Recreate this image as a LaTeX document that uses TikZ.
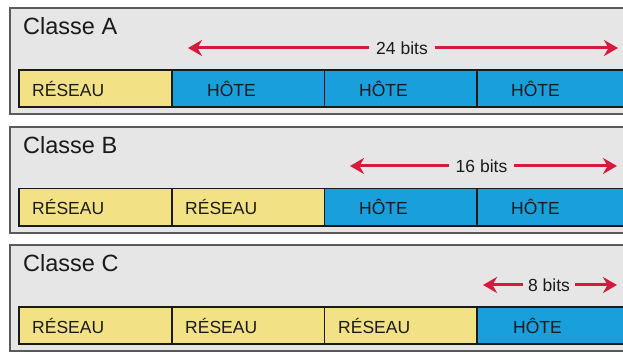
\documentclass[tikz,border=0pt]{standalone}
\usepackage{fontspec}
\setmainfont{Liberation Sans}
\usetikzlibrary{arrows.meta}
\definecolor{bgray}{HTML}{E6E6E6}
\definecolor{frameg}{HTML}{5A5A5A}
\definecolor{fyel}{HTML}{F3E285}
\definecolor{fblue}{HTML}{199FDC}
\definecolor{ared}{HTML}{D61A3C}
\definecolor{ftxt}{HTML}{1A1A1A}
\tikzset{
  outerbox/.style={draw=frameg, fill=bgray, line width=1.3pt},
  netfield/.style={draw=ftxt, fill=fyel, line width=1.1pt},
  hostfield/.style={draw=ftxt, fill=fblue, line width=1.1pt},
  classlbl/.style={anchor=base west, inner sep=0pt, font=\fontsize{23.5}{26}\selectfont, text=ftxt},
  netlbl/.style={anchor=base west, inner sep=0pt, font=\fontsize{17.5}{20}\selectfont, text=ftxt},
  bitslbl/.style={inner xsep=7pt, inner ysep=0pt, font=\fontsize{17.5}{20}\selectfont, text=ftxt},
  redarrow/.style={draw=ared, line width=3pt, -{Stealth[length=14pt,width=16pt,inset=4.5pt]}}
}
\begin{document}
\begin{tikzpicture}[x=1pt,y=-1pt]
\useasboundingbox (0,0) rectangle (623,352);
\clip (0,0) rectangle (623,352);
\fill[white] (0,0) rectangle (623,352);

% ---------- Classe A ----------
\draw[outerbox] (10,8) rectangle (640,114);
\node[classlbl] (tA) at (23,35) {Classe A};
\draw[netfield]  (19,70) rectangle (172,107);
\draw[hostfield] (172,70) rectangle (324.5,107);
\draw[hostfield] (324.5,70) rectangle (477,107);
\draw[hostfield] (477,70) rectangle (630,107);
\node[netlbl] (a1) at (32,96.5) {RÉSEAU};
\node[netlbl] (a2) at (207,96.5) {HÔTE};
\node[netlbl] (a3) at (359,96.5) {HÔTE};
\node[netlbl] (a4) at (511,96.5) {HÔTE};
\coordinate (aL) at (188,48);
\coordinate (aR) at (618,48);
\node[bitslbl] (bA) at (402,48) {24 bits};
\draw[redarrow] (bA.west) -- (aL);
\draw[redarrow] (bA.east) -- (aR);

% ---------- Classe B ----------
\draw[outerbox] (10,127) rectangle (640,233);
\node[classlbl] (tB) at (23,153.5) {Classe B};
\draw[netfield]  (19,188.5) rectangle (172,226);
\draw[netfield]  (172,188.5) rectangle (324.5,226);
\draw[hostfield] (324.5,188.5) rectangle (477,226);
\draw[hostfield] (477,188.5) rectangle (630,226);
\node[netlbl] (b1) at (32,214.5) {RÉSEAU};
\node[netlbl] (b2) at (185,214.5) {RÉSEAU};
\node[netlbl] (b3) at (359,214.5) {HÔTE};
\node[netlbl] (b4) at (511,214.5) {HÔTE};
\coordinate (bL) at (350,166);
\coordinate (bR) at (617,166);
\node[bitslbl] (bB) at (481.5,166) {16 bits};
\draw[redarrow] (bB.west) -- (bL);
\draw[redarrow] (bB.east) -- (bR);

% ---------- Classe C ----------
\draw[outerbox] (10,245) rectangle (640,351);
\node[classlbl] (tC) at (23,272) {Classe C};
\draw[netfield]  (19,307) rectangle (172,344);
\draw[netfield]  (172,307) rectangle (324.5,344);
\draw[netfield]  (324.5,307) rectangle (477,344);
\draw[hostfield] (477,307) rectangle (630,344);
\node[netlbl] (c1) at (32,333) {RÉSEAU};
\node[netlbl] (c2) at (185,333) {RÉSEAU};
\node[netlbl] (c3) at (338,333) {RÉSEAU};
\node[netlbl] (c4) at (513,333) {HÔTE};
\coordinate (cL) at (483,285);
\coordinate (cR) at (617,285);
\node[bitslbl, inner xsep=5pt] (bC) at (549,285) {8 bits};
\draw[redarrow] (bC.west) -- (cL);
\draw[redarrow] (bC.east) -- (cR);
\end{tikzpicture}
\end{document}
